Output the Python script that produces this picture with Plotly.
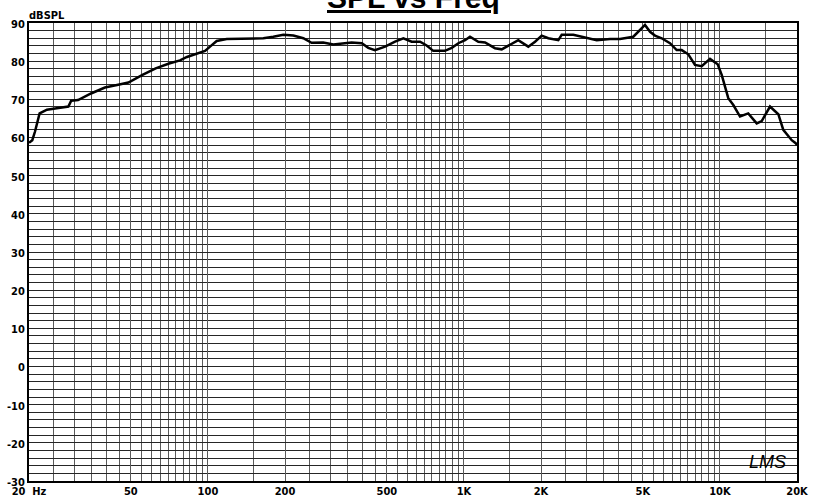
import plotly.graph_objects as go

# ---- data ----
freq_hz = [20, 20.6, 21.1, 21.6, 22.0, 22.7, 23.5, 25.3, 28.5, 29.2, 31.1, 35.1, 39.6,
           44.6, 48.9, 55.5, 62.5, 70.5, 77.8, 82.8, 87.7, 97.4, 101.9, 108.2, 118.4,
           141.7, 164.6, 180, 197, 215.6, 235.8, 254, 282, 309, 343, 364, 399, 423,
           449, 492, 538, 580, 625, 674, 715, 759, 843, 896, 951, 1010, 1056, 1138,
           1209, 1322, 1405, 1513, 1630, 1784, 1896, 2012, 2136, 2337, 2409, 2674,
           3017, 3302, 3720, 4070, 4587, 4872, 5053, 5096, 5333, 5576, 5922, 6380,
           6777, 7089, 7523, 7990, 8487, 9146, 9800, 10160, 10780, 11280, 11980,
           12900, 13920, 14560, 15690, 16910, 17680, 19070, 19770, 20000]
spl_db = [58.6, 59.3, 61.5, 64.1, 66.3, 66.8, 67.3, 67.6, 68.1, 69.6, 69.8, 71.6, 73.1,
          73.8, 74.4, 76.4, 78.1, 79.4, 80.2, 81.1, 81.6, 82.7, 83.8, 85.3, 85.8,
          86.0, 86.0, 86.4, 86.9, 86.7, 86.0, 84.8, 84.9, 84.4, 84.7, 84.9, 84.7, 83.5,
          82.9, 83.8, 85.1, 86.0, 85.1, 85.1, 84.1, 82.7, 82.7, 83.5, 84.7, 85.5, 86.4, 85.1,
          84.9, 83.4, 83.1, 84.2, 85.5, 83.8, 85.1, 86.7, 86.0, 85.5, 86.9, 86.9,
          86.0, 85.5, 85.8, 85.8, 86.4, 88.2, 89.5, 89.5, 87.7, 86.7, 86.0, 84.7,
          82.9, 82.9, 81.8, 79.0, 78.7, 80.6, 79.2, 76.4, 70.3, 68.5, 65.5,
          66.3, 63.7, 64.3, 68.1, 66.1, 62.0, 59.3, 58.5, 58.0]

x_tick_vals = [20, 50, 100, 200, 500, 1000, 2000, 5000, 10000, 20000]
x_tick_text = ["20\u00a0\u00a0Hz", "50", "100", "200", "500", "1K", "2K", "5K", "10K", "20K"]
y_tick_vals = [-30, -20, -10, 0, 10, 20, 30, 40, 50, 60, 70, 80, 90]
y_tick_text = ["-30", "-20", "-10", "0", "10", "20", "30", "40", "50", "60", "70", "80", "90"]

title_text = "SPL vs Freq"
y_unit_text = "dBSPL"
logo_text = "LMS"

# grid positions: 5/50/500/5000 steps per decade
x_grid_vals = ([5 * k for k in range(4, 21)] + [50 * k for k in range(2, 21)] +
               [500 * k for k in range(2, 21)] + [15000, 20000])
y_grid_vals = list(range(-30, 91, 2))

narrow = "Liberation Sans Narrow, Arial Narrow, DejaVu Sans Condensed, sans-serif"

fig = go.Figure()
fig.add_trace(go.Scatter(x=freq_hz, y=spl_db, mode="lines",
                         line=dict(color="black", width=2.5), hoverinfo="skip",
                         showlegend=False))

vgrid = "#5a5a5a"
hgrid = "#262626"

fig.update_xaxes(type="log", range=[1.30103, 4.30103], automargin=False,
                 tickmode="array", tickvals=x_tick_vals, ticktext=x_tick_text,
                 ticks="", ticklabelstandoff=-1,
                 showgrid=True, gridcolor=vgrid, gridwidth=1,
                 minor=dict(tickmode="array", tickvals=x_grid_vals, showgrid=True,
                            gridcolor=vgrid, gridwidth=1, ticks=""),
                 showline=True, linecolor="black", linewidth=2, mirror=True,
                 tickfont=dict(family=narrow, size=11, color="black", weight="bold"),
                 zeroline=False)
fig.update_yaxes(range=[-30, 90], automargin=False, tickmode="array",
                 tickvals=y_tick_vals, ticklabelshift=1,
                 ticktext=y_tick_text, ticks="", showgrid=True, gridcolor=hgrid,
                 gridwidth=1,
                 minor=dict(tickmode="array", tickvals=y_grid_vals, showgrid=True,
                            gridcolor=hgrid, gridwidth=1, ticks=""),
                 showline=True, linecolor="black", linewidth=2, mirror=True,
                 tickfont=dict(family=narrow, size=11, color="black", weight="bold"),
                 zeroline=False)

fig.add_annotation(text="<u>" + title_text + "</u>", xref="paper", yref="paper",
                   x=0.5, y=1, xanchor="center", yanchor="bottom", yshift=7,
                   showarrow=False,
                   font=dict(family="Liberation Sans, Arial, sans-serif", size=30,
                             color="black", weight="bold"))
fig.add_annotation(text=y_unit_text, xref="paper", yref="paper", x=0, y=1,
                   xanchor="left", yanchor="bottom", xshift=-2, yshift=-1,
                   showarrow=False,
                   font=dict(family=narrow, size=11, color="black", weight="bold"))
fig.add_annotation(text="<i>" + logo_text + "</i>", xref="paper", yref="paper",
                   x=0.962, y=0.041, xanchor="center", yanchor="middle",
                   showarrow=False,
                   font=dict(family="Liberation Sans, sans-serif", size=18,
                             color="black"))

fig.update_layout(template="none", width=814, height=497,
                  margin=dict(l=29, r=17, t=23, b=16, autoexpand=False),
                  paper_bgcolor="white", plot_bgcolor="white")

fig.write_html("out.html", config={"displayModeBar": False},
               post_script="document.body.style.margin='0';"
                           "document.body.style.overflow='hidden';")
